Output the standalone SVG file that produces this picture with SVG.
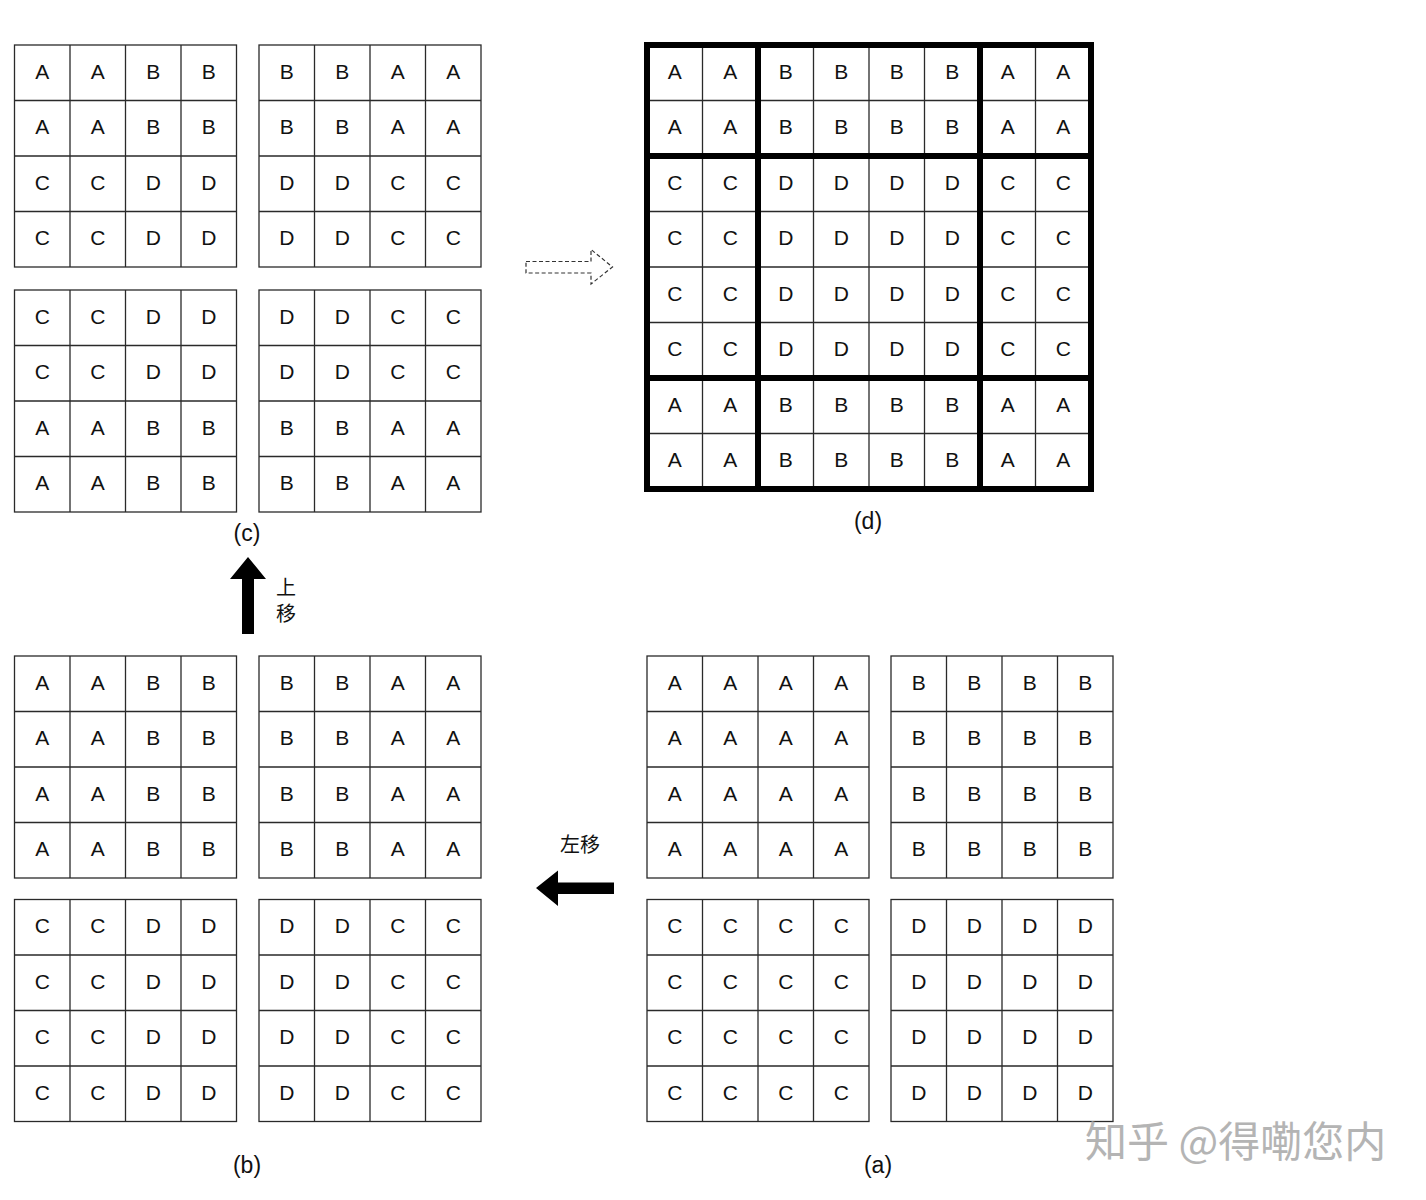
<svg xmlns="http://www.w3.org/2000/svg" xmlns:xlink="http://www.w3.org/1999/xlink" width="1426" height="1200" viewBox="0 0 1426 1200">
<style>
.t{font-family:"Liberation Sans",Arial,sans-serif;font-size:21px;text-anchor:middle;fill:#111}
.lbl{font-family:"Liberation Sans",Arial,sans-serif;font-size:23px;text-anchor:middle;fill:#111}
.cjk{font-family:"Liberation Sans","Noto Sans CJK SC",sans-serif;font-size:20px;text-anchor:middle;fill:#111}
.wm{font-family:"Noto Sans CJK SC",sans-serif;font-size:42px;fill:#b4b4b4}
.gl{fill:#fff;stroke:#2a2a2a;stroke-width:1.3}
.thin{stroke:#2a2a2a;stroke-width:1.3}
.thick{stroke:#000;stroke-width:6;fill:none}
</style>
<defs>
<g id="g4">
<rect class="gl" x="0" y="0" width="222" height="222"/>
<path class="thin" d="M55.5 0V222M111 0V222M166.5 0V222M0 55.5H222M0 111H222M0 166.5H222"/>
</g>
</defs>
<rect width="1426" height="1200" fill="#fff"/>

<!-- (c) -->
<g id="c-tl" transform="translate(14.5,45)"><use xlink:href="#g4"/>
<text class="t" x="27.75" y="33.5">A</text><text class="t" x="83.25" y="33.5">A</text><text class="t" x="138.75" y="33.5">B</text><text class="t" x="194.25" y="33.5">B</text>
<text class="t" x="27.75" y="89">A</text><text class="t" x="83.25" y="89">A</text><text class="t" x="138.75" y="89">B</text><text class="t" x="194.25" y="89">B</text>
<text class="t" x="27.75" y="144.5">C</text><text class="t" x="83.25" y="144.5">C</text><text class="t" x="138.75" y="144.5">D</text><text class="t" x="194.25" y="144.5">D</text>
<text class="t" x="27.75" y="200">C</text><text class="t" x="83.25" y="200">C</text><text class="t" x="138.75" y="200">D</text><text class="t" x="194.25" y="200">D</text>
</g>
<g id="c-tr" transform="translate(259,45)"><use xlink:href="#g4"/>
<text class="t" x="27.75" y="33.5">B</text><text class="t" x="83.25" y="33.5">B</text><text class="t" x="138.75" y="33.5">A</text><text class="t" x="194.25" y="33.5">A</text>
<text class="t" x="27.75" y="89">B</text><text class="t" x="83.25" y="89">B</text><text class="t" x="138.75" y="89">A</text><text class="t" x="194.25" y="89">A</text>
<text class="t" x="27.75" y="144.5">D</text><text class="t" x="83.25" y="144.5">D</text><text class="t" x="138.75" y="144.5">C</text><text class="t" x="194.25" y="144.5">C</text>
<text class="t" x="27.75" y="200">D</text><text class="t" x="83.25" y="200">D</text><text class="t" x="138.75" y="200">C</text><text class="t" x="194.25" y="200">C</text>
</g>
<g id="c-bl" transform="translate(14.5,290)"><use xlink:href="#g4"/>
<text class="t" x="27.75" y="33.5">C</text><text class="t" x="83.25" y="33.5">C</text><text class="t" x="138.75" y="33.5">D</text><text class="t" x="194.25" y="33.5">D</text>
<text class="t" x="27.75" y="89">C</text><text class="t" x="83.25" y="89">C</text><text class="t" x="138.75" y="89">D</text><text class="t" x="194.25" y="89">D</text>
<text class="t" x="27.75" y="144.5">A</text><text class="t" x="83.25" y="144.5">A</text><text class="t" x="138.75" y="144.5">B</text><text class="t" x="194.25" y="144.5">B</text>
<text class="t" x="27.75" y="200">A</text><text class="t" x="83.25" y="200">A</text><text class="t" x="138.75" y="200">B</text><text class="t" x="194.25" y="200">B</text>
</g>
<g id="c-br" transform="translate(259,290)"><use xlink:href="#g4"/>
<text class="t" x="27.75" y="33.5">D</text><text class="t" x="83.25" y="33.5">D</text><text class="t" x="138.75" y="33.5">C</text><text class="t" x="194.25" y="33.5">C</text>
<text class="t" x="27.75" y="89">D</text><text class="t" x="83.25" y="89">D</text><text class="t" x="138.75" y="89">C</text><text class="t" x="194.25" y="89">C</text>
<text class="t" x="27.75" y="144.5">B</text><text class="t" x="83.25" y="144.5">B</text><text class="t" x="138.75" y="144.5">A</text><text class="t" x="194.25" y="144.5">A</text>
<text class="t" x="27.75" y="200">B</text><text class="t" x="83.25" y="200">B</text><text class="t" x="138.75" y="200">A</text><text class="t" x="194.25" y="200">A</text>
</g>
<text id="label-c" class="lbl" x="247" y="541">(c)</text>

<!-- (b) -->
<g id="b-tl" transform="translate(14.5,656)"><use xlink:href="#g4"/>
<text class="t" x="27.75" y="33.5">A</text><text class="t" x="83.25" y="33.5">A</text><text class="t" x="138.75" y="33.5">B</text><text class="t" x="194.25" y="33.5">B</text>
<text class="t" x="27.75" y="89">A</text><text class="t" x="83.25" y="89">A</text><text class="t" x="138.75" y="89">B</text><text class="t" x="194.25" y="89">B</text>
<text class="t" x="27.75" y="144.5">A</text><text class="t" x="83.25" y="144.5">A</text><text class="t" x="138.75" y="144.5">B</text><text class="t" x="194.25" y="144.5">B</text>
<text class="t" x="27.75" y="200">A</text><text class="t" x="83.25" y="200">A</text><text class="t" x="138.75" y="200">B</text><text class="t" x="194.25" y="200">B</text>
</g>
<g id="b-tr" transform="translate(259,656)"><use xlink:href="#g4"/>
<text class="t" x="27.75" y="33.5">B</text><text class="t" x="83.25" y="33.5">B</text><text class="t" x="138.75" y="33.5">A</text><text class="t" x="194.25" y="33.5">A</text>
<text class="t" x="27.75" y="89">B</text><text class="t" x="83.25" y="89">B</text><text class="t" x="138.75" y="89">A</text><text class="t" x="194.25" y="89">A</text>
<text class="t" x="27.75" y="144.5">B</text><text class="t" x="83.25" y="144.5">B</text><text class="t" x="138.75" y="144.5">A</text><text class="t" x="194.25" y="144.5">A</text>
<text class="t" x="27.75" y="200">B</text><text class="t" x="83.25" y="200">B</text><text class="t" x="138.75" y="200">A</text><text class="t" x="194.25" y="200">A</text>
</g>
<g id="b-bl" transform="translate(14.5,899.5)"><use xlink:href="#g4"/>
<text class="t" x="27.75" y="33.5">C</text><text class="t" x="83.25" y="33.5">C</text><text class="t" x="138.75" y="33.5">D</text><text class="t" x="194.25" y="33.5">D</text>
<text class="t" x="27.75" y="89">C</text><text class="t" x="83.25" y="89">C</text><text class="t" x="138.75" y="89">D</text><text class="t" x="194.25" y="89">D</text>
<text class="t" x="27.75" y="144.5">C</text><text class="t" x="83.25" y="144.5">C</text><text class="t" x="138.75" y="144.5">D</text><text class="t" x="194.25" y="144.5">D</text>
<text class="t" x="27.75" y="200">C</text><text class="t" x="83.25" y="200">C</text><text class="t" x="138.75" y="200">D</text><text class="t" x="194.25" y="200">D</text>
</g>
<g id="b-br" transform="translate(259,899.5)"><use xlink:href="#g4"/>
<text class="t" x="27.75" y="33.5">D</text><text class="t" x="83.25" y="33.5">D</text><text class="t" x="138.75" y="33.5">C</text><text class="t" x="194.25" y="33.5">C</text>
<text class="t" x="27.75" y="89">D</text><text class="t" x="83.25" y="89">D</text><text class="t" x="138.75" y="89">C</text><text class="t" x="194.25" y="89">C</text>
<text class="t" x="27.75" y="144.5">D</text><text class="t" x="83.25" y="144.5">D</text><text class="t" x="138.75" y="144.5">C</text><text class="t" x="194.25" y="144.5">C</text>
<text class="t" x="27.75" y="200">D</text><text class="t" x="83.25" y="200">D</text><text class="t" x="138.75" y="200">C</text><text class="t" x="194.25" y="200">C</text>
</g>
<text id="label-b" class="lbl" x="247" y="1173">(b)</text>

<!-- (a) -->
<g id="a-tl" transform="translate(647,656)"><use xlink:href="#g4"/>
<text class="t" x="27.75" y="33.5">A</text><text class="t" x="83.25" y="33.5">A</text><text class="t" x="138.75" y="33.5">A</text><text class="t" x="194.25" y="33.5">A</text>
<text class="t" x="27.75" y="89">A</text><text class="t" x="83.25" y="89">A</text><text class="t" x="138.75" y="89">A</text><text class="t" x="194.25" y="89">A</text>
<text class="t" x="27.75" y="144.5">A</text><text class="t" x="83.25" y="144.5">A</text><text class="t" x="138.75" y="144.5">A</text><text class="t" x="194.25" y="144.5">A</text>
<text class="t" x="27.75" y="200">A</text><text class="t" x="83.25" y="200">A</text><text class="t" x="138.75" y="200">A</text><text class="t" x="194.25" y="200">A</text>
</g>
<g id="a-tr" transform="translate(891,656)"><use xlink:href="#g4"/>
<text class="t" x="27.75" y="33.5">B</text><text class="t" x="83.25" y="33.5">B</text><text class="t" x="138.75" y="33.5">B</text><text class="t" x="194.25" y="33.5">B</text>
<text class="t" x="27.75" y="89">B</text><text class="t" x="83.25" y="89">B</text><text class="t" x="138.75" y="89">B</text><text class="t" x="194.25" y="89">B</text>
<text class="t" x="27.75" y="144.5">B</text><text class="t" x="83.25" y="144.5">B</text><text class="t" x="138.75" y="144.5">B</text><text class="t" x="194.25" y="144.5">B</text>
<text class="t" x="27.75" y="200">B</text><text class="t" x="83.25" y="200">B</text><text class="t" x="138.75" y="200">B</text><text class="t" x="194.25" y="200">B</text>
</g>
<g id="a-bl" transform="translate(647,899.5)"><use xlink:href="#g4"/>
<text class="t" x="27.75" y="33.5">C</text><text class="t" x="83.25" y="33.5">C</text><text class="t" x="138.75" y="33.5">C</text><text class="t" x="194.25" y="33.5">C</text>
<text class="t" x="27.75" y="89">C</text><text class="t" x="83.25" y="89">C</text><text class="t" x="138.75" y="89">C</text><text class="t" x="194.25" y="89">C</text>
<text class="t" x="27.75" y="144.5">C</text><text class="t" x="83.25" y="144.5">C</text><text class="t" x="138.75" y="144.5">C</text><text class="t" x="194.25" y="144.5">C</text>
<text class="t" x="27.75" y="200">C</text><text class="t" x="83.25" y="200">C</text><text class="t" x="138.75" y="200">C</text><text class="t" x="194.25" y="200">C</text>
</g>
<g id="a-br" transform="translate(891,899.5)"><use xlink:href="#g4"/>
<text class="t" x="27.75" y="33.5">D</text><text class="t" x="83.25" y="33.5">D</text><text class="t" x="138.75" y="33.5">D</text><text class="t" x="194.25" y="33.5">D</text>
<text class="t" x="27.75" y="89">D</text><text class="t" x="83.25" y="89">D</text><text class="t" x="138.75" y="89">D</text><text class="t" x="194.25" y="89">D</text>
<text class="t" x="27.75" y="144.5">D</text><text class="t" x="83.25" y="144.5">D</text><text class="t" x="138.75" y="144.5">D</text><text class="t" x="194.25" y="144.5">D</text>
<text class="t" x="27.75" y="200">D</text><text class="t" x="83.25" y="200">D</text><text class="t" x="138.75" y="200">D</text><text class="t" x="194.25" y="200">D</text>
</g>
<text id="label-a" class="lbl" x="878" y="1173">(a)</text>

<!-- (d) -->
<g id="d-grid" transform="translate(647,45)">
<rect x="0" y="0" width="444" height="444" fill="#fff"/>
<path class="thin" d="M55.5 0V444M166.5 0V444M222 0V444M277.5 0V444M388.5 0V444M0 55.5H444M0 166.5H444M0 222H444M0 277.5H444M0 388.5H444"/>
<path class="thick" d="M111 0V444M333 0V444M0 111H444M0 333H444"/>
<rect class="thick" x="0" y="0" width="444" height="444"/>
<text class="t" x="27.75" y="33.5">A</text><text class="t" x="83.25" y="33.5">A</text><text class="t" x="138.75" y="33.5">B</text><text class="t" x="194.25" y="33.5">B</text><text class="t" x="249.75" y="33.5">B</text><text class="t" x="305.25" y="33.5">B</text><text class="t" x="360.75" y="33.5">A</text><text class="t" x="416.25" y="33.5">A</text>
<text class="t" x="27.75" y="89">A</text><text class="t" x="83.25" y="89">A</text><text class="t" x="138.75" y="89">B</text><text class="t" x="194.25" y="89">B</text><text class="t" x="249.75" y="89">B</text><text class="t" x="305.25" y="89">B</text><text class="t" x="360.75" y="89">A</text><text class="t" x="416.25" y="89">A</text>
<text class="t" x="27.75" y="144.5">C</text><text class="t" x="83.25" y="144.5">C</text><text class="t" x="138.75" y="144.5">D</text><text class="t" x="194.25" y="144.5">D</text><text class="t" x="249.75" y="144.5">D</text><text class="t" x="305.25" y="144.5">D</text><text class="t" x="360.75" y="144.5">C</text><text class="t" x="416.25" y="144.5">C</text>
<text class="t" x="27.75" y="200">C</text><text class="t" x="83.25" y="200">C</text><text class="t" x="138.75" y="200">D</text><text class="t" x="194.25" y="200">D</text><text class="t" x="249.75" y="200">D</text><text class="t" x="305.25" y="200">D</text><text class="t" x="360.75" y="200">C</text><text class="t" x="416.25" y="200">C</text>
<text class="t" x="27.75" y="255.5">C</text><text class="t" x="83.25" y="255.5">C</text><text class="t" x="138.75" y="255.5">D</text><text class="t" x="194.25" y="255.5">D</text><text class="t" x="249.75" y="255.5">D</text><text class="t" x="305.25" y="255.5">D</text><text class="t" x="360.75" y="255.5">C</text><text class="t" x="416.25" y="255.5">C</text>
<text class="t" x="27.75" y="311">C</text><text class="t" x="83.25" y="311">C</text><text class="t" x="138.75" y="311">D</text><text class="t" x="194.25" y="311">D</text><text class="t" x="249.75" y="311">D</text><text class="t" x="305.25" y="311">D</text><text class="t" x="360.75" y="311">C</text><text class="t" x="416.25" y="311">C</text>
<text class="t" x="27.75" y="366.5">A</text><text class="t" x="83.25" y="366.5">A</text><text class="t" x="138.75" y="366.5">B</text><text class="t" x="194.25" y="366.5">B</text><text class="t" x="249.75" y="366.5">B</text><text class="t" x="305.25" y="366.5">B</text><text class="t" x="360.75" y="366.5">A</text><text class="t" x="416.25" y="366.5">A</text>
<text class="t" x="27.75" y="422">A</text><text class="t" x="83.25" y="422">A</text><text class="t" x="138.75" y="422">B</text><text class="t" x="194.25" y="422">B</text><text class="t" x="249.75" y="422">B</text><text class="t" x="305.25" y="422">B</text><text class="t" x="360.75" y="422">A</text><text class="t" x="416.25" y="422">A</text>
</g>
<text id="label-d" class="lbl" x="868" y="529">(d)</text>

<!-- connectors -->
<g id="connectors">
<polygon id="arrow-up" points="248,557 230,579 242,579 242,634 254,634 254,579 266,579" fill="#000"/>
<polygon id="arrow-left" points="536,888 558,870.5 558,882.5 614,882.5 614,894 558,894 558,906" fill="#000"/>
<polygon id="arrow-dashed" points="526,261.5 591,261.5 591,249.5 612.5,267 591,284 591,273 526,273" fill="none" stroke="#333" stroke-width="1.2" stroke-dasharray="4,2.5"/>
<text class="cjk" x="286" y="595">上</text>
<text class="cjk" x="286" y="621">移</text>
<text class="cjk" x="580" y="852">左移</text>
</g>

<text id="watermark" class="wm" x="1085" y="1157">知乎 @得嘞您内</text>
</svg>
